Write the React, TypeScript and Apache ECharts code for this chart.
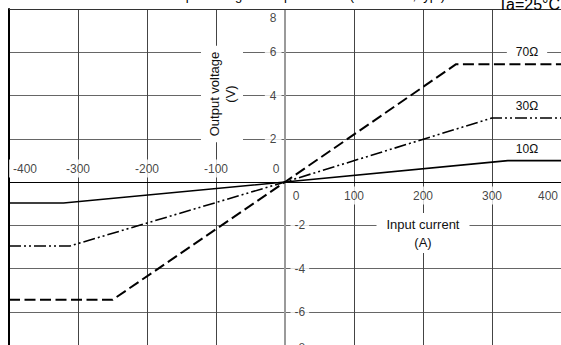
import React, { useEffect, useRef } from 'react';
import * as echarts from 'echarts';

// Input current (A) / output voltage (V) breakpoints for each load resistance
const current10 = [-400, -321, 0, 323, 400];
const voltage10 = [-0.97, -0.97, 0, 0.99, 0.99];
const current30 = [-400, -312, 0, 300, 400];
const voltage30 = [-2.96, -2.96, 0, 2.96, 2.96];
const current70 = [-400, -250, 0, 248, 400];
const voltage70 = [-5.45, -5.45, 0, 5.45, 5.45];
const seriesNames = ['10Ω', '30Ω', '70Ω'];

// tick labels
const xTickValues = [-400, -300, -200, -100, 0, 100, 200, 300, 400];
const yTickValues = [-8, -6, -4, -2, 2, 4, 6, 8];

const xMin = -400;
const xMax = 400;
const xStep = 100;
const yMin = -8;
const yMax = 8;
const yStep = 2;

const titleText = 'Output voltage vs. Input current (Vcc=±15V, typ.)';
const ambientText = 'Ta=25°C';
const yName = 'Output voltage\n(V)';
const xName = 'Input current\n(A)';

const FONT = '"Liberation Sans", Arial, sans-serif';

const zip = (xs: number[], ys: number[]) => xs.map((x, i) => [x, ys[i]]);

export default function App() {
  const ref = useRef<HTMLDivElement>(null);
  useEffect(() => {
    if (!ref.current) return;
    const chart = echarts.init(ref.current, undefined, { renderer: 'svg' });

    const tickLabel = {
      show: true,
      fontSize: 12,
      fontFamily: FONT,
      color: '#111',
      backgroundColor: '#fff',
    };
    const hidden = { color: 'rgba(0,0,0,0)' };

    // x tick labels: negatives (and left 0) above the axis, positives (and right 0) below it
    const xUpper = xTickValues
      .filter((v) => v <= 0)
      .map((v) => {
        const item: any = { value: [v, 0] };
        if (v === xMin) item.label = { offset: [16, 0] };
        if (v === 0) item.label = { offset: [-9, 0] };
        return item;
      });
    const xLower = xTickValues
      .filter((v) => v >= 0)
      .map((v) => {
        const item: any = { value: [v, 0] };
        if (v === xMax) item.label = { offset: [-13, 0] };
        if (v === 0) item.label = { offset: [11, 0] };
        return item;
      });
    const yLeft = yTickValues
      .filter((v) => v > 0)
      .map((v) => {
        const item: any = { value: [0, v] };
        if (v === yMax) item.label = { offset: [0, 9] };
        return item;
      });
    const yRight = yTickValues
      .filter((v) => v < 0)
      .map((v) => {
        const item: any = { value: [0, v] };
        if (v === yMin) item.label = { offset: [0, -7] };
        return item;
      });

    const labelSeries = (data: any[], position: string, distance: number, padding: number[]) => ({
      type: 'scatter',
      xAxisIndex: 0,
      yAxisIndex: 0,
      symbolSize: 1,
      silent: true,
      z: 5,
      itemStyle: hidden,
      data,
      label: {
        ...tickLabel,
        position,
        distance,
        padding,
        formatter: (p: any) => String(p.value[position === 'top' || position === 'bottom' ? 0 : 1]),
      },
    });

    chart.setOption({
      animation: false,
      backgroundColor: '#fff',
      textStyle: { fontFamily: FONT },
      grid: { left: 9, right: 0, top: 9, bottom: 10, containLabel: false, outerBoundsMode: 'none' },
      xAxis: {
        type: 'value', min: xMin, max: xMax, interval: xStep,
        axisLine: { show: false },
        axisTick: { show: false },
        axisLabel: { show: false },
        splitLine: { show: true, lineStyle: { color: '#444', width: 1 } },
      },
      yAxis: [
        {
          type: 'value', min: yMin, max: yMax, interval: yStep, position: 'left',
          axisLine: { show: false },
          axisTick: { show: false },
          axisLabel: { show: false },
          splitLine: { show: true, lineStyle: { color: '#666', width: 1 } },
        },
        {
          type: 'value', min: yMin, max: yMax, interval: yStep, position: 'left',
          axisLine: { show: true, onZero: false, lineStyle: { color: '#000', width: 2 } },
          axisTick: { show: false },
          splitLine: { show: false },
          axisLabel: { show: false },
        },
      ],
      series: [
        {
          name: seriesNames[0], type: 'line', xAxisIndex: 0, yAxisIndex: 0, symbol: 'none', z: 3,
          data: zip(current10, voltage10),
          lineStyle: { color: '#000', width: 1.6, type: 'solid' },
          markLine: {
            silent: true,
            symbol: ['none', 'none'],
            label: { show: false },
            z: 2,
            data: [
              { xAxis: 0, lineStyle: { color: '#9a9a9a', width: 2, type: 'solid' } },
              { yAxis: 0, lineStyle: { color: '#000', width: 1.2, type: 'solid' } },
              { yAxis: yMax, lineStyle: { color: '#333', width: 1.2, type: 'solid' } },
            ],
          },
        },
        {
          name: seriesNames[1], type: 'line', xAxisIndex: 0, yAxisIndex: 0, symbol: 'none', z: 3,
          data: zip(current30, voltage30),
          lineStyle: { color: '#000', width: 1.6, type: [12, 3, 2, 3, 2, 3] },
        },
        {
          name: seriesNames[2], type: 'line', xAxisIndex: 0, yAxisIndex: 0, symbol: 'none', z: 3,
          data: zip(current70, voltage70),
          lineStyle: { color: '#000', width: 2, type: [11, 4.5] },
        },
        labelSeries(xUpper, 'top', 4, [3, 4, 3, 4]),
        labelSeries(xLower, 'bottom', 4, [3, 4, 3, 4]),
        labelSeries(yLeft, 'left', 3, [1, 5, 1, 5]),
        labelSeries(yRight, 'right', 5, [1, 4, 1, 4]),
      ],
      graphic: [
        {
          type: 'text', x: 445, y: 1.5, z: 100,
          style: { text: titleText, fontSize: 13, fontFamily: FONT, fill: '#000', align: 'right', verticalAlign: 'bottom' },
        },
        {
          type: 'text', x: 560, y: 12, z: 100,
          style: { text: ambientText, fontSize: 16, fontFamily: FONT, fill: '#000', align: 'right', verticalAlign: 'bottom' },
        },
        {
          type: 'text', x: 222, y: 94, rotation: Math.PI / 2, z: 100,
          style: {
            text: yName, fontSize: 13, lineHeight: 16, fontFamily: FONT, fill: '#111', align: 'center', verticalAlign: 'middle',
            backgroundColor: '#fff', padding: [5, 6],
          },
        },
        {
          type: 'text', x: 423, y: 233, z: 100,
          style: {
            text: xName, fontSize: 13, lineHeight: 18, fontFamily: FONT, fill: '#111', align: 'center', verticalAlign: 'middle',
            backgroundColor: '#fff', padding: [2, 10],
          },
        },
        {
          type: 'text', x: 527, y: 52, z: 100,
          style: { text: seriesNames[2], fontSize: 12, fontFamily: FONT, fill: '#111', align: 'center', verticalAlign: 'middle', backgroundColor: '#fff', padding: [2, 9] },
        },
        {
          type: 'text', x: 527, y: 106, z: 100,
          style: { text: seriesNames[1], fontSize: 12, fontFamily: FONT, fill: '#111', align: 'center', verticalAlign: 'middle', backgroundColor: '#fff', padding: [2, 9] },
        },
        {
          type: 'text', x: 527, y: 149, z: 100,
          style: { text: seriesNames[0], fontSize: 12, fontFamily: FONT, fill: '#111', align: 'center', verticalAlign: 'middle', backgroundColor: '#fff', padding: [2, 9] },
        },
      ],
    });
    return () => chart.dispose();
  }, []);
  return (
    <div style={{ position: 'fixed', left: 0, top: 0, width: 561, height: 345, overflow: 'hidden', background: '#fff' }}>
      <div ref={ref} style={{ width: 561, height: 365 }} />
    </div>
  );
}
